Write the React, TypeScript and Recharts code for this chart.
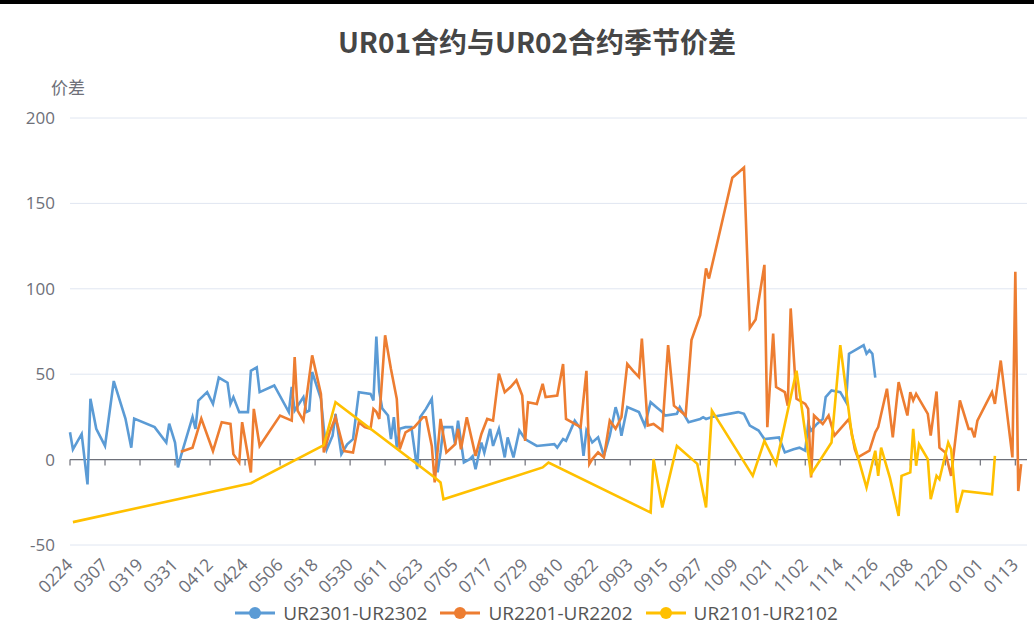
import { LineChart, Line, XAxis, YAxis, CartesianGrid, ReferenceLine } from 'recharts'

const tickLabels = [
  '0224', '0307', '0319', '0331', '0412', '0424', '0506', '0518', '0530', '0611', '0623', '0705', '0717', '0729',
  '0810', '0822', '0903', '0915', '0927', '1009', '1021', '1102', '1114', '1126', '1208', '1220', '0101', '0113',
]
const yTicks = [-50, 0, 50, 100, 150, 200]

// one category per calendar day, 0224 (leap year) .. 0117
const categories = Array.from({ length: 329 }, (_, i) => {
  const d = new Date(2020, 1, 24 + i)
  return String(d.getMonth() + 1).padStart(2, '0') + String(d.getDate()).padStart(2, '0')
})

const ur2301: [string, number][] = [
  ['0224', 16], ['0225', 6], ['0228', 15], ['0301', -14.5], ['0302', 35.6], ['0304', 18], ['0307', 8], ['0310', 46],
  ['0314', 24], ['0316', 7], ['0317', 24], ['0324', 19], ['0328', 10], ['0329', 21], ['0331', 10], ['0401', -4.6],
  ['0402', 2], ['0406', 25], ['0407', 18], ['0408', 34.6], ['0411', 39.5], ['0413', 32.6], ['0415', 48], ['0418', 45],
  ['0419', 32.6], ['0420', 36.6], ['0422', 27.8], ['0425', 27.8], ['0426', 52], ['0428', 54], ['0429', 39.5],
  ['0504', 43.4], ['0509', 27.8], ['0510', 42.5], ['0511', 28.7], ['0514', 36.6], ['0515', 27.8], ['0516', 28.7],
  ['0517', 51.3], ['0520', 35.6], ['0521', 18], ['0522', 6], ['0524', 14], ['0525', 26.8], ['0527', 3.2], ['0529', 9],
  ['0531', 12], ['0602', 39.5], ['0606', 38.5], ['0607', 34.6], ['0608', 72], ['0609', 40], ['0610', 30],
  ['0612', 25.8], ['0613', 12], ['0614', 24.8], ['0615', 7], ['0616', 18], ['0618', 19], ['0620', 19], ['0622', -5.6],
  ['0623', 24.8], ['0625', 29.7], ['0627', 35.6], ['0629', -7.5], ['0630', 4.2], ['0701', 19], ['0704', 19],
  ['0705', 9], ['0706', 22.8], ['0708', -1.6], ['0710', 0.3], ['0711', 2], ['0712', -5.6], ['0714', 10], ['0715', 4],
  ['0717', 18], ['0718', 8], ['0720', 18], ['0722', 1.3], ['0723', 13], ['0725', 1.3], ['0727', 17], ['0729', 12],
  ['0730', 11], ['0802', 8], ['0808', 9], ['0809', 7], ['0811', 12], ['0812', 11], ['0815', 22.8], ['0817', 18],
  ['0818', 2.2], ['0819', 17], ['0821', 10], ['0823', 13], ['0825', 2.2], ['0827', 14], ['0829', 30.7],
  ['0830', 24.8], ['0831', 14], ['0902', 30.7], ['0906', 27.8], ['0908', 19.9], ['0910', 33.6], ['0912', 30.7],
  ['0914', 27.8], ['0915', 25.8], ['0919', 26.8], ['0920', 30.7], ['0923', 21.9], ['0927', 23.8], ['0928', 24.8],
  ['0929', 23.8], ['1001', 25], ['1010', 27.8], ['1012', 26.8], ['1014', 19.9], ['1017', 17], ['1019', 12],
  ['1024', 13], ['1026', 4.2], ['1029', 6], ['1031', 7], ['1102', 5.2], ['1103', 20.9], ['1104', 17], ['1106', 20.9],
  ['1108', 23.8], ['1109', 36.6], ['1111', 40.5], ['1114', 39.5], ['1116', 33.6], ['1117', 62], ['1120', 65],
  ['1122', 67], ['1123', 62], ['1124', 64], ['1125', 62], ['1126', 48],
]

const ur2201: [string, number][] = [
  ['0402', 4.6], ['0406', 7], ['0409', 24], ['0413', 5], ['0416', 21.9], ['0419', 20.9], ['0420', 3.2], ['0422', -1.7],
  ['0423', 21.9], ['0426', -7.5], ['0427', 29.7], ['0429', 8], ['0506', 25.8], ['0510', 22.8], ['0511', 60],
  ['0512', 28.7], ['0514', 22.8], ['0517', 61], ['0520', 38.5], ['0521', 4.2], ['0523', 16], ['0525', 24.8],
  ['0528', 5], ['0531', 4.2], ['0602', 21.9], ['0604', 19], ['0606', 18], ['0607', 29.7], ['0608', 28],
  ['0609', 23.8], ['0611', 72.8], ['0613', 53], ['0615', 35.6], ['0616', 6], ['0618', 16], ['0621', 19],
  ['0624', 24.8], ['0625', 24.8], ['0627', 8], ['0628', -13.4], ['0630', 23.8], ['0702', 4.2], ['0705', 9],
  ['0706', 18], ['0707', 6], ['0709', 24.8], ['0712', 2.2], ['0714', 15], ['0716', 23.8], ['0718', 22.8],
  ['0720', 50.3], ['0722', 39.5], ['0724', 42.5], ['0726', 46.4], ['0728', 37.5], ['0729', 11], ['0730', 33.6],
  ['0802', 32.6], ['0804', 44.4], ['0805', 36.6], ['0809', 37.5], ['0811', 56], ['0812', 23.8], ['0817', 19],
  ['0819', 52], ['0820', -2.6], ['0821', 0.3], ['0823', 4.2], ['0825', 1.3], ['0827', 22.8], ['0829', 18],
  ['0831', 24.8], ['0902', 56], ['0904', 52], ['0906', 48.4], ['0907', 70.9], ['0909', 19.9], ['0911', 20.9],
  ['0914', 17], ['0916', 67], ['0918', 31.6], ['0920', 28.7], ['0922', 25.8], ['0924', 70], ['0927', 84.6],
  ['0929', 112], ['0930', 106], ['1008', 165], ['1010', 168], ['1012', 171], ['1014', 77], ['1016', 82],
  ['1019', 114], ['1020', 19], ['1022', 73.8], ['1023', 42.5], ['1026', 39.5], ['1027', 31.6], ['1028', 88.5],
  ['1030', 35.6], ['1102', 32.6], ['1103', 29.7], ['1104', -10.5], ['1105', 25.8], ['1108', 20.9], ['1110', 25.8],
  ['1112', 14], ['1117', 23.8], ['1119', 6], ['1120', 1.3], ['1124', 5.2], ['1126', 16], ['1127', 19],
  ['1130', 41.5], ['1202', 13], ['1204', 45.4], ['1207', 25.8], ['1208', 39.5], ['1209', 34.6], ['1210', 38.5],
  ['1214', 26.8], ['1215', 14], ['1217', 39.9], ['1218', 7], ['1220', 4.2], ['1222', -9.5], ['1225', 34.6],
  ['1228', 18], ['1229', 18], ['1230', 13], ['1231', 22.8], ['0105', 39.5], ['0106', 32.6], ['0108', 58],
  ['0112', 1.3], ['0113', 110], ['0114', -18.4], ['0115', -2.6],
]

const ur2101: [string, number][] = [
  ['0225', -36.6], ['0426', -13.8], ['0521', 8.5], ['0525', 33.6], ['0628', -10.5], ['0630', -13.4], ['0701', -23.2],
  ['0804', -4.6], ['0806', -1.7], ['0910', -31], ['0911', 0.3], ['0914', -28], ['0919', 8], ['0926', -2.5],
  ['0929', -28], ['1001', 28.7], ['1015', -9.5], ['1019', 11], ['1023', -2.6], ['1030', 52], ['1104', -8.5],
  ['1111', 10], ['1114', 67], ['1118', 14], ['1123', -16.4], ['1126', 5.2], ['1127', -9.5], ['1128', 7],
  ['1201', -10.5], ['1204', -33], ['1205', -9.5], ['1208', -7.5], ['1209', 18], ['1210', -3.6], ['1211', 9],
  ['1214', 0.3], ['1215', -23.2], ['1217', -9.5], ['1218', -11.5], ['1221', 10], ['1222', 6], ['1224', -31],
  ['1226', -18.4], ['0105', -20.3], ['0106', 2.2],
]

const series = [
  { key: 'ur2301', name: 'UR2301-UR2302', color: '#5B9BD5', points: ur2301 },
  { key: 'ur2201', name: 'UR2201-UR2202', color: '#ED7D31', points: ur2201 },
  { key: 'ur2101', name: 'UR2101-UR2102', color: '#FFC000', points: ur2101 },
]

const data = categories.map(cat => {
  const row: Record<string, string | number | null> = { cat }
  for (const s of series) {
    const p = s.points.find(q => q[0] === cat)
    row[s.key] = p ? p[1] : null
  }
  return row
})

const font = '"Open Sans", "Noto Sans CJK SC", sans-serif'
const axisColor = '#6E7079'

const XTick = ({ x, y, payload }: any) => (
  <text
    x={x - 1}
    y={y + 8}
    transform={`rotate(-45 ${x - 1} ${y + 8})`}
    textAnchor="end"
    dominantBaseline="central"
    fill={axisColor}
    fontSize={17.5}
    fontFamily={font}
  >
    {payload.value}
  </text>
)

export default function App() {
  return (
    <div style={{ position: 'absolute', left: 0, top: 0, width: 1034, height: 641, background: '#fff', fontFamily: font }}>
      <div style={{ position: 'absolute', left: 0, top: 0, width: 1034, height: 4, background: '#000' }} />
      <div
        style={{
          position: 'absolute', left: 0, top: 21, width: 1074, textAlign: 'center',
          fontSize: 28, fontWeight: 'bold', color: '#464646', fontFamily: '"Noto Sans CJK SC", sans-serif',
        }}
      >
        UR01合约与UR02合约季节价差
      </div>
      <div style={{ position: 'absolute', left: 51, top: 74, fontSize: 17, color: axisColor, fontFamily: '"Noto Sans CJK SC", sans-serif' }}>
        价差
      </div>
      <LineChart width={1034} height={641} data={data} margin={{ top: 118, right: 7, bottom: 36, left: 0 }}>
        <CartesianGrid vertical={false} stroke="#E0E6F1" />
        <XAxis
          dataKey="cat"
          ticks={tickLabels}
          interval={0}
          axisLine={false}
          tickLine={false}
          height={60}
          tick={<XTick />}
        />
        <YAxis
          domain={[-50, 200]}
          ticks={yTicks}
          axisLine={false}
          tickLine={false}
          width={70}
          tickMargin={9}
          tick={{ fill: axisColor, fontSize: 17, fontFamily: font }}
        />
        <ReferenceLine y={0} stroke={axisColor} strokeWidth={1.2} />
        {tickLabels.map(t => (
          <ReferenceLine key={t} segment={[{ x: t, y: 0 }, { x: t, y: -3.5 }]} stroke={axisColor} strokeWidth={1.2} />
        ))}
        {series.map(s => (
          <Line
            key={s.key}
            type="linear"
            dataKey={s.key}
            name={s.name}
            stroke={s.color}
            strokeWidth={2.6}
            dot={false}
            connectNulls
            isAnimationActive={false}
          />
        ))}
      </LineChart>
      <div
        style={{
          position: 'absolute', left: 0, top: 600, width: 1073, display: 'flex', justifyContent: 'center', gap: 13,
          fontSize: 19, color: '#555',
        }}
      >
        {series.map(s => (
          <div key={s.key} style={{ display: 'flex', alignItems: 'center', gap: 8 }}>
            <svg width={40} height={16}>
              <line x1={0} y1={8} x2={40} y2={8} stroke={s.color} strokeWidth={3} />
              <circle cx={20} cy={8} r={6} fill={s.color} />
            </svg>
            <span>{s.name}</span>
          </div>
        ))}
      </div>
    </div>
  )
}
